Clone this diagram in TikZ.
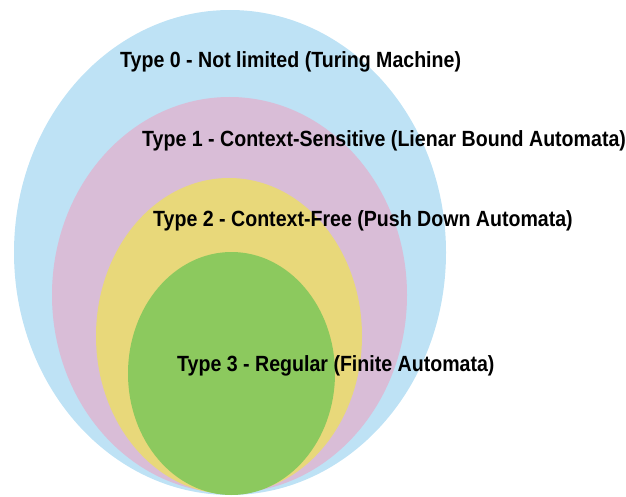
\documentclass[tikz,border=0pt]{standalone}
\usepackage{fontspec}
\setmainfont{Liberation Sans}[FakeStretch=0.89]
\usetikzlibrary{shapes.geometric}
\definecolor{typeZero}{RGB}{190,226,245}
\definecolor{typeOne}{RGB}{217,189,215}
\definecolor{typeTwo}{RGB}{232,216,122}
\definecolor{typeThree}{RGB}{140,201,94}
\tikzset{
  region/.style={ellipse, inner sep=0pt, draw=none},
  caption/.style={anchor=west, inner sep=0pt, font=\fontsize{22}{25}\selectfont\bfseries, text=black}
}
\begin{document}
\begin{tikzpicture}[x=1pt,y=1pt]
  \useasboundingbox (0,0) rectangle (626,496);
  % nested language classes of the Chomsky hierarchy
  \node[region, fill=typeZero,  minimum width=432pt, minimum height=485pt] (t0) at (230,243.5) {};
  \node[region, fill=typeOne,   minimum width=355pt, minimum height=396pt] (t1) at (229.5,201) {};
  \node[region, fill=typeTwo,   minimum width=266pt, minimum height=316pt] (t2) at (229,160) {};
  \node[region, fill=typeThree, minimum width=207pt, minimum height=243pt] (t3) at (231.5,122.5) {};
  % labels
  \node[caption] (l0) at (120,434) {Type 0 - Not limited (Turing Machine)};
  \node[caption] (l1) at (142,355) {Type 1 - Context-Sensitive (Lienar Bound Automata)};
  \node[caption] (l2) at (153,275) {Type 2 - Context-Free (Push Down Automata)};
  \node[caption] (l3) at (177,130) {Type 3 - Regular (Finite Automata)};
\end{tikzpicture}
\end{document}
